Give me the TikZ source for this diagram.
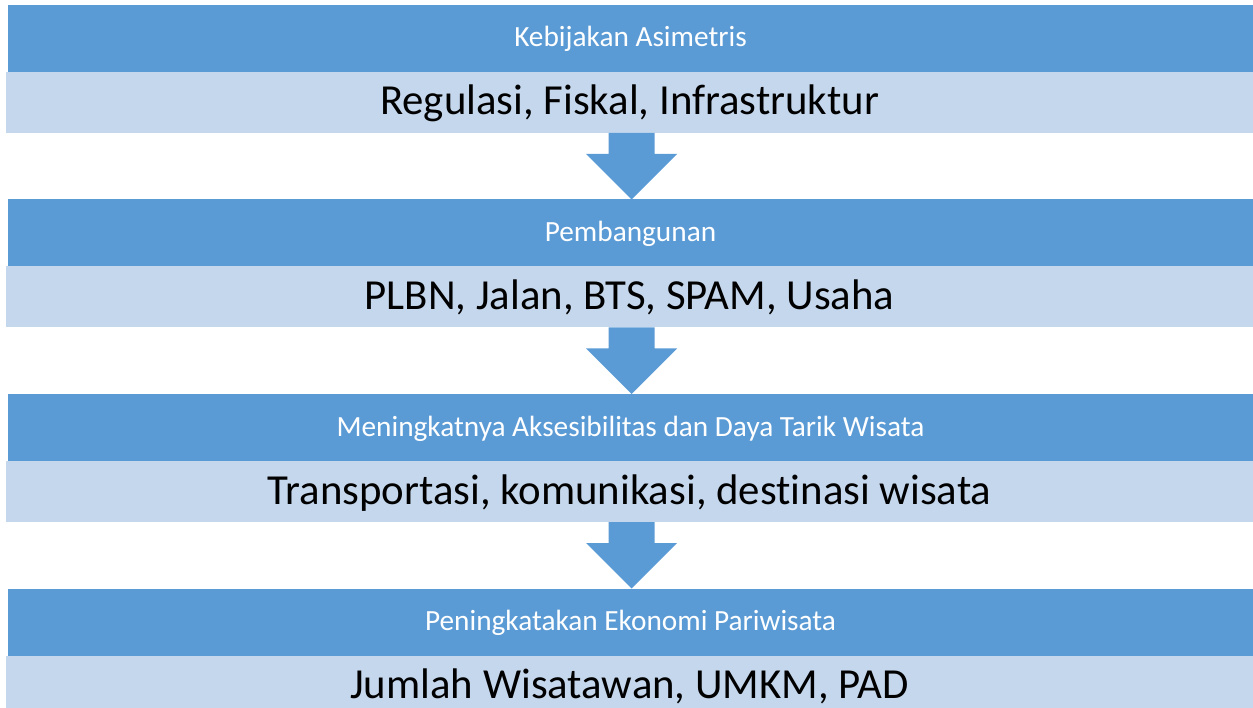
\documentclass[tikz,border=0pt]{standalone}
\usepackage{fontspec}
\setmainfont{Carlito}[Ligatures={NoCommon}]
\usetikzlibrary{calc}
\definecolor{hdrblue}{RGB}{91,155,213}
\definecolor{bodyblue}{RGB}{197,215,236}
\begin{document}
\begin{tikzpicture}[x=1pt,y=1pt,
  hdr/.style={fill=hdrblue, text=white, inner sep=0pt, outer sep=0pt, anchor=north,
    minimum width=1245pt, text height=42pt, text depth=25pt,
    font=\fontsize{29.3}{30}\selectfont},
  bodybar/.style={fill=bodyblue, text=black, inner sep=0pt, outer sep=0pt, anchor=north,
    minimum width=1247pt, text height=43pt, text depth=18pt,
    font=\fontsize{42.8}{44}\selectfont},
  flowarrow/.style={fill=hdrblue}]
\useasboundingbox (0,0) rectangle (1253,-708);
\clip (0,0) rectangle (1253,-708);

\node[hdr] (h1) at (630.5,-5) {Kebijakan Asimetris};
\node[bodybar] (c1) at (629.5,-72) {Regulasi, Fiskal, Infrastruktur};

\node[hdr] (h2) at (630.5,-199.5) {Pembangunan};
\node[bodybar] (c2) at (629.5,-266.5) {PLBN, Jalan, BTS, SPAM, Usaha};

\node[hdr] (h3) at (630.5,-394) {Meningkatnya Aksesibilitas dan Daya Tarik Wisata};
\node[bodybar] (c3) at (629.5,-461) {Transportasi, komunikasi, destinasi wisata};

\node[hdr] (h4) at (630.5,-588.5) {Peningkatakan Ekonomi Pariwisata};
\node[bodybar] (c4) at (629.5,-655.5) {Jumlah Wisatawan, UMKM, PAD};

\foreach \i/\j in {1/2,2/3,3/4}{
  \fill[flowarrow] ($(c\i.south)+(-21,0)$) -- ($(c\i.south)+(25,0)$)
    -- ($(c\i.south)+(25,-21)$) -- ($(c\i.south)+(47.5,-21)$)
    -- ($(h\j.north)+(1,0)$)
    -- ($(c\i.south)+(-43.5,-21)$) -- ($(c\i.south)+(-21,-21)$) -- cycle;
}
\end{tikzpicture}
\end{document}
